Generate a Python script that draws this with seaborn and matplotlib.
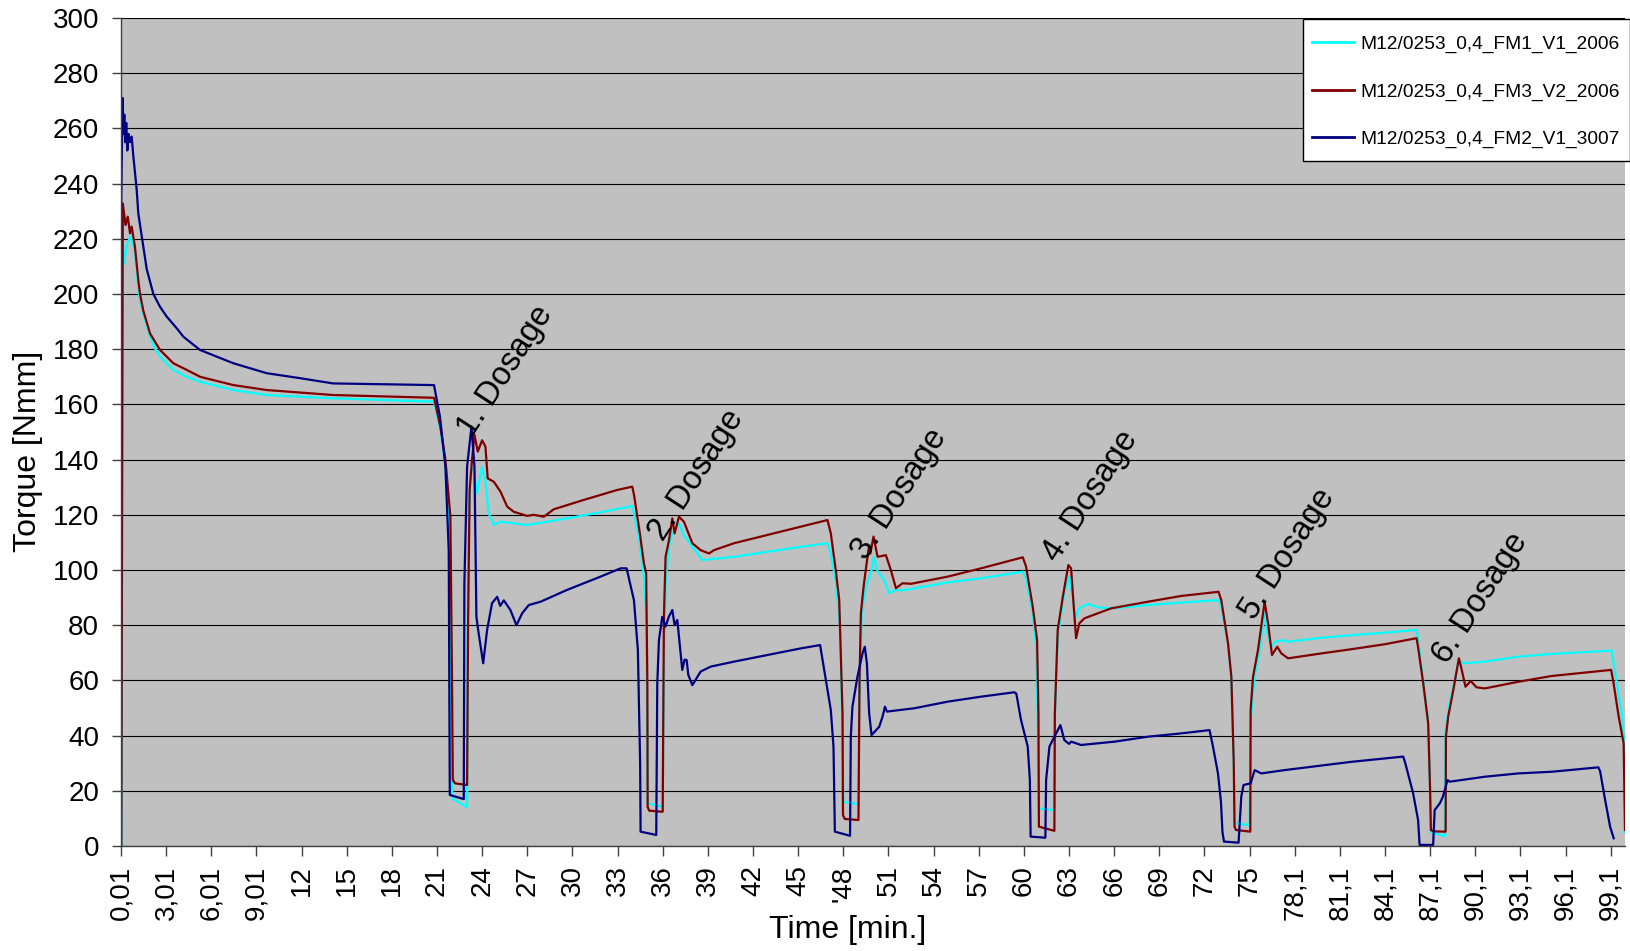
import pandas as pd
import seaborn as sns
import matplotlib.pyplot as plt
from matplotlib.patches import Rectangle

plt.rcParams["font.family"] = ["Liberation Sans", "DejaVu Sans"]

# series names (legend order = draw order)
series_names = ["M12/0253_0,4_FM1_V1_2006", "M12/0253_0,4_FM3_V2_2006", "M12/0253_0,4_FM2_V1_3007"]
series_colors = ["#00FFFF", "#800000", "#000080"]

# FM1_V1_2006 (cyan) - time [min], torque [Nmm]
fm1_time = [0.03, 0.08, 0.2, 0.4, 0.65, 0.93, 1.15, 1.26, 1.48, 1.93, 2.26, 2.6, 3.48, 4.37, 5.26, 7.47, 9.69,
            14.1, 20.8,
            21.22, 21.56, 21.89, 21.95, 22.0, 23.0, 23.03, 23.1, 23.26, 23.4, 23.66, 24.0, 24.22, 24.44, 24.77,
            25.22, 26.99, 29.65, 31.87, 33.98, 34.42, 34.75, 34.9, 34.97, 35.0, 36.0, 36.05, 36.19, 36.42, 36.64,
            36.8, 37.08, 37.41, 37.97, 38.63, 40.74, 45.18, 46.95, 47.17, 47.5, 47.79, 47.95, 48.0, 49.0, 49.05,
            49.23, 49.5, 49.83, 50.05, 50.28, 50.72, 51.05, 51.5, 51.94, 54.94, 57.15, 59.93, 60.15, 60.59, 60.81,
            60.95, 61.0, 62.0, 62.05, 62.25, 62.69, 63.03, 63.25, 63.47, 63.69, 64.25, 64.9, 65.8, 68.24, 70.46,
            72.94, 73.12, 73.57, 73.79, 73.95, 74.05, 75.0, 75.07, 75.34, 75.67, 76.0, 76.18, 76.45, 76.71, 77.22,
            77.56, 79.55, 81.77, 83.99, 86.1, 86.2, 86.54, 86.87, 87.0, 87.05, 88.0, 88.03, 88.3, 88.65, 88.91,
            89.2, 90.64, 92.86, 95.08, 99.05, 99.2, 99.73, 99.95, 99.96]
fm1_torque = [0, 223, 211, 218, 221, 215, 202.6, 197.8, 193, 184.5, 180.3, 177.3, 172.5, 170, 168.2, 165.2, 163.4,
              162.2, 161,
              151, 138, 105, 60, 17.3, 14.0, 60, 119.3, 136.2, 137, 127.8, 137.4, 132, 120.5, 116.3,
              117.5, 116.3, 118.7, 120.9, 123.2, 112, 97.6, 85.5, 40, 15.5, 14.2, 50, 95.2, 108.4, 113.3,
              114, 116.9, 112.7, 108.4, 103.6, 104.8, 108.4, 109.7, 106, 96, 79.5, 40, 16, 15.2, 50,
              84.3, 94, 98.8, 104.8, 99.4, 96.4, 91.6, 92.8, 92.6, 95.5, 97, 99.4, 97, 84.3, 72.2,
              40, 13.6, 13.0, 45, 75, 91.6, 97.6, 90, 83.1, 86.1, 87.7, 86.5, 86.1, 87.3, 88.2,
              89.1, 86.7, 73.4, 61.3, 30, 8.2, 7.6, 45, 61.3, 71, 84.3, 77.1, 72.2, 74, 74.6,
              74, 75.3, 76.4, 77.3, 78.3, 75, 60, 45, 20, 5, 3.5, 42, 52, 60.1, 67.4,
              66.2, 66.8, 68.6, 69.6, 70.8, 66, 48.1, 34.8, 5]

# FM3_V2_2006 (dark red)
fm3_time = [0.02, 0.12, 0.3, 0.45, 0.6, 0.71, 0.93, 1.15, 1.26, 1.48, 1.93, 2.26, 2.6, 3.48, 4.37, 5.26, 7.47,
            9.69, 14.1, 20.8,
            21.22, 21.56, 21.89, 22.0, 22.05, 22.2, 23.0, 23.07, 23.17, 23.33, 23.49, 23.71, 24.0, 24.22, 24.37,
            24.77, 25.22, 25.66, 26.1, 26.99, 27.43, 28.1, 28.76, 30.76, 32.98, 33.98, 34.1, 34.48, 34.75, 34.9,
            34.98, 35.0, 35.1, 36.0, 36.08, 36.19, 36.42, 36.64, 36.79, 37.08, 37.41, 37.97, 38.52, 39.08, 39.41,
            40.74, 42.96, 45.18, 46.95, 47.17, 47.5, 47.73, 47.95, 47.98, 48.1, 49.01, 49.08, 49.17, 49.35, 49.61,
            49.7, 49.8, 50.01, 50.28, 50.5, 50.83, 51.16, 51.5, 51.94, 52.5, 54.94, 57.15, 59.93, 60.15, 60.59,
            60.88, 60.97, 61.0, 62.03, 62.06, 62.25, 62.59, 62.96, 63.14, 63.3, 63.47, 63.69, 64.03, 64.92, 65.8,
            68.24, 70.46, 72.94, 73.12, 73.57, 73.79, 73.95, 74.0, 74.1, 75.05, 75.07, 75.23, 75.56, 76.0, 76.23,
            76.49, 76.84, 77.11, 77.56, 79.55, 81.77, 83.99, 86.1, 86.2, 86.54, 86.87, 87.0, 87.05, 87.2, 88.03,
            88.05, 88.2, 88.54, 88.91, 89.05, 89.35, 89.7, 90.08, 90.64, 92.86, 95.08, 99.03, 99.19, 99.53, 99.86,
            99.95]
fm3_torque = [0, 232.8, 225, 228, 222, 224.4, 217, 205, 200.2, 194, 185.7, 182.7, 179.7, 174.9, 172.5, 170, 167,
              165.2, 163.4, 162.4,
              152, 140, 119.3, 59, 24, 22.7, 22.1, 83, 129, 140, 149, 142.9, 147, 144.7, 133.2,
              132, 128.4, 123, 121.1, 119.6, 120, 119.3, 122, 125.4, 129, 130.2, 127, 113.3, 102.4, 98.8,
              59, 14.2, 12.8, 12.4, 83, 104.8, 110.9, 118.7, 113.3, 119.3, 117.5, 109.7, 107.2, 106, 107.2,
              109.7, 112.7, 115.7, 118.1, 113.3, 100, 89.1, 48, 11.2, 9.8, 9.4, 60.1, 84.3, 94, 104.8,
              108, 106, 112.1, 104.8, 105, 105.4, 100, 93.4, 95.2, 95, 97.6, 100.6, 104.6, 101.2, 86.7,
              74.6, 48, 7, 5.5, 48, 78.3, 90.3, 101.8, 100.6, 88, 75.3, 80.7, 82.5, 84.3, 86.1,
              88.5, 90.6, 92.1, 89.1, 73.4, 61.3, 30, 7, 5.8, 5.2, 49.3, 61.3, 71, 88.5, 80.7,
              69.2, 72.2, 69.8, 68, 69.6, 71.3, 73.1, 75.3, 72, 59, 44.5, 20, 5.8, 5.3, 5.2,
              39.6, 46.9, 56.5, 68, 65, 57.7, 59.8, 57.5, 57.1, 59.5, 61.6, 63.8, 59, 46.9, 37.2,
              5.8]

# FM2_V1_3007 (navy)
fm2_time = [0.0, 0.01, 0.08, 0.11, 0.16, 0.22, 0.28, 0.35, 0.42, 0.5, 0.6, 0.71, 0.82, 1.04, 1.15, 1.38, 1.71,
            2.15, 2.59, 3.04, 3.7, 4.15, 5.26, 6.36, 7.47, 9.69, 11.9, 14.1, 16.35, 20.8, 21.2, 21.56, 21.78,
            21.85, 22.78, 22.82, 23.0,
            23.29, 23.49, 23.62, 23.77, 24.07, 24.33, 24.66, 25.0, 25.2, 25.44, 25.88, 26.28, 26.66, 27.1, 27.88,
            29.65, 31.87, 33.2, 33.6, 34.09, 34.35, 34.5, 34.53, 35.57, 35.64, 35.75, 35.97, 36.19, 36.4, 36.64,
            36.79, 36.97, 37.08, 37.3, 37.45, 37.59, 37.7, 37.97, 38.52, 39.19, 40.74, 42.96, 45.18, 46.46, 46.73,
            47.17, 47.35, 47.44, 48.45, 48.5, 48.61, 48.94, 49.28, 49.43, 49.57, 49.72, 49.88, 50.39, 50.61, 50.77,
            50.9, 52.72, 54.94, 57.15, 59.37, 59.5, 59.81, 60.26, 60.4, 60.45, 61.43, 61.48, 61.7, 62.03, 62.43,
            62.69, 63.0, 63.15, 63.8, 66.02, 68.24, 70.46, 72.34, 72.57, 72.9, 73.1, 73.2, 73.3, 74.27, 74.45,
            74.6, 75.07, 75.34, 75.78, 77.33, 79.55, 81.77, 85.21, 85.35, 85.87, 86.2, 86.3, 87.2, 87.3, 87.65,
            87.85, 88.16, 88.3, 90.64, 92.86, 95.08, 98.18, 98.3, 98.63, 98.96, 99.2]
fm2_torque = [0, 230, 262, 271, 258, 265, 255, 262, 252, 258, 255, 257, 250, 238, 229.2, 221, 209,
              200, 195.4, 191.8, 187.6, 184.5, 179.7, 177.3, 174.9, 171.3, 169.5, 167.6, 167.4, 167, 155.5, 137.4, 107,
              18.5, 17.0, 95, 137.4,
              152, 137.4, 83, 77, 66.2, 78.3, 88, 90.3, 87, 89, 85.5, 80, 84.3, 87.3, 88.5,
              92.8, 97.6, 100.6, 100.6, 89, 71, 30, 5.2, 4.0, 59, 74.6, 83, 79.5, 83, 85.5,
              80, 81.9, 75.8, 63.8, 67.5, 67.4, 62, 58.3, 63.2, 65, 66.8, 69.2, 71.6, 72.8, 63.8,
              49.3, 36, 5.2, 3.7, 39.6, 50.5, 61.3, 69.8, 72.2, 66.2, 48.1, 40.2, 43.2, 46.9, 50.5,
              48.7, 49.9, 52.3, 54.1, 55.7, 55.2, 45.7, 36, 23.9, 3.4, 3.0, 23.9, 36, 39.6, 43.8,
              38.4, 37, 37.8, 36.6, 37.8, 39.6, 40.8, 42, 36, 26.3, 16, 5, 1.6, 1.2, 17.9,
              22.1, 22.7, 27.5, 26.3, 27.5, 29, 30.5, 32.4, 30, 19.1, 9.4, 0.4, 0.4, 13, 15.5,
              17.9, 23.9, 23.3, 25.1, 26.3, 26.9, 28.5, 27, 16.7, 7, 2.8]

# x axis: category-style tick labels every 3 min
tick_labels = ["0,01", "3,01", "6,01", "9,01", "12", "15", "18", "21", "24", "27", "30", "33", "36", "39",
               "42", "45", "'48", "51", "54", "57", "60", "63", "66", "69", "72", "75", "78,1", "81,1",
               "84,1", "87,1", "90,1", "93,1", "96,1", "99,1"]

# dosage annotations (time, torque at start of text baseline)
dosage_labels = ["1. Dosage", "2. Dosage", "3. Dosage", "4. Dosage", "5. Dosage", "6. Dosage"]
dosage_time = [23.35, 36.0, 49.5, 62.2, 75.3, 88.1]
dosage_torque = [147.7, 110, 103.1, 102.4, 81.4, 65.6]

frames = []
for name, t, v in zip(series_names, [fm1_time, fm3_time, fm2_time], [fm1_torque, fm3_torque, fm2_torque]):
    frames.append(pd.DataFrame({"time": t, "torque": v, "series": name}))
df = pd.concat(frames, ignore_index=True)

fig = plt.figure(figsize=(16.3, 9.51), dpi=100)
ax = fig.add_axes([0.07423, 0.11041, 0.92270, 0.87066])
ax.set_facecolor("#C0C0C0")

sns.lineplot(data=df, x="time", y="torque", hue="series", hue_order=series_names,
             palette=series_colors, estimator=None, sort=False, lw=1.6, ax=ax)

ax.set_xlim(0, 99.95)
ax.set_ylim(0, 300)
ax.set_yticks(range(0, 301, 20))
ax.set_xticks([3 * i for i in range(len(tick_labels))])
ax.set_xticklabels(tick_labels, rotation=90, va="top", ha="center")

ax.yaxis.grid(True, color="black", lw=0.8)
ax.xaxis.grid(False)
ax.set_axisbelow(True)
for s in ["top", "right"]:
    ax.spines[s].set_visible(False)
for s in ["left", "bottom"]:
    ax.spines[s].set_color("#404040")
    ax.spines[s].set_linewidth(1)

ax.tick_params(axis="y", direction="out", length=6.7, width=1, color="#404040", labelsize=20, pad=9)
ax.tick_params(axis="x", direction="out", length=7, width=1, color="#404040", labelsize=20, pad=7)

ax.set_xlabel("Time [min.]", fontsize=23)
ax.set_ylabel("Torque [Nmm]", fontsize=23)
ax.xaxis.set_label_coords(0.483, -0.101)
ax.xaxis.label.set_va("center")
ax.yaxis.set_label_coords(-0.062, 0.476)
ax.yaxis.label.set_va("center")

for lab, t, v in zip(dosage_labels, dosage_time, dosage_torque):
    ax.text(t, v, lab, fontsize=23.5, rotation=57, rotation_mode="anchor", ha="left", va="baseline")

# legend: white box drawn separately (Excel style padding)
ax.add_patch(Rectangle((0.7859, 0.8273), 0.2174, 0.1711, transform=ax.transAxes, facecolor="white",
                       edgecolor="black", lw=1, zorder=4.9, clip_on=False))
old = ax.get_legend()
handles = old.legend_handles
labels = [tx.get_text() for tx in old.get_texts()]
leg = ax.legend(handles, labels, loc="upper right", bbox_to_anchor=(1.0035, 0.9917), borderaxespad=0,
                fontsize=13.8, frameon=False, handlelength=2.2, handletextpad=0.3, labelspacing=1.56,
                borderpad=0.55)
leg.set_zorder(5)
for h in leg.legend_handles:
    h.set_linewidth(2)

fig.savefig("out.png", dpi=100)
